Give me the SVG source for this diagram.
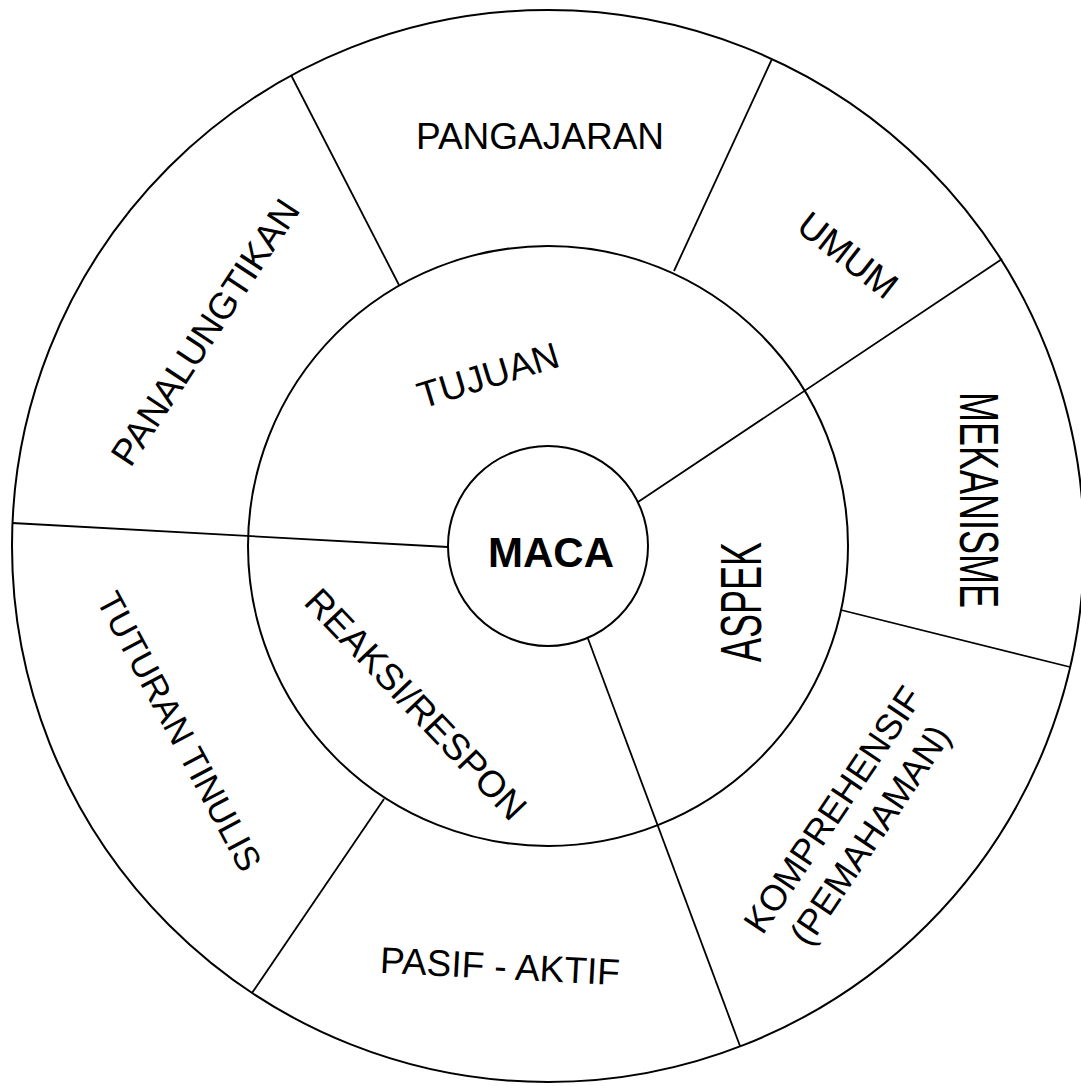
<svg xmlns="http://www.w3.org/2000/svg" width="1081" height="1086" viewBox="0 0 1081 1086">
<style>
.ring{fill:none;stroke:#000;stroke-width:2}
.ln{stroke:#000;stroke-width:1.8;fill:none}
text{font-family:"Liberation Sans",Arial,sans-serif;font-size:37px;fill:#000;text-anchor:middle}
.b{font-weight:bold;font-size:42px}
.s{font-size:36px}
.t{font-size:35px}
</style>
<rect width="1081" height="1086" fill="#fff"/>
<g id="rings">
<circle class="ring" cx="548" cy="546" r="536"/>
<circle class="ring" cx="548" cy="546" r="300"/>
</g>
<g id="connectors">
<line class="ln" x1="12" y1="523" x2="448" y2="547"/>
<line class="ln" x1="291" y1="75" x2="399" y2="285"/>
<line class="ln" x1="772" y1="59" x2="674" y2="271"/>
<line class="ln" x1="1002" y1="259" x2="638" y2="502"/>
<line class="ln" x1="841" y1="610" x2="1070" y2="667"/>
<line class="ln" x1="587" y1="636" x2="740" y2="1046"/>
<line class="ln" x1="384" y1="799" x2="252" y2="993"/>
</g>
<g id="maca">
<circle cx="548" cy="546" r="100" fill="#fff" stroke="#000" stroke-width="2"/>
<text class="b" x="551" y="567">MACA</text>
</g>
<g id="tujuan"><text transform="translate(488,375) rotate(-17)" y="13">TUJUAN</text></g>
<g id="aspek"><text class="s" transform="translate(740,602) rotate(-90) scale(1,1.6)" y="13">ASPEK</text></g>
<g id="reaksi"><text transform="translate(416,704) rotate(46.5)" y="13">REAKSI/RESPON</text></g>
<g id="pangajaran"><text transform="translate(540,136)" y="13">PANGAJARAN</text></g>
<g id="umum"><text transform="translate(848,255) rotate(38)" y="13">UMUM</text></g>
<g id="mekanisme"><text class="s" transform="translate(980,500) rotate(90) scale(1,1.55)" y="13">MEKANISME</text></g>
<g id="komprehensif"><text class="s" transform="translate(851,822) rotate(-56)"><tspan x="0" y="-9.5">KOMPREHENSIF</tspan><tspan x="0" y="35.5">(PEMAHAMAN)</tspan></text></g>
<g id="pasif"><text transform="translate(500,966) rotate(3)" y="13">PASIF - AKTIF</text></g>
<g id="tuturan"><text class="t" transform="translate(180,731) rotate(62)" y="13">TUTURAN TINULIS</text></g>
<g id="panalungtikan"><text transform="translate(205,332) rotate(-56.6)" y="13">PANALUNGTIKAN</text></g>
</svg>
